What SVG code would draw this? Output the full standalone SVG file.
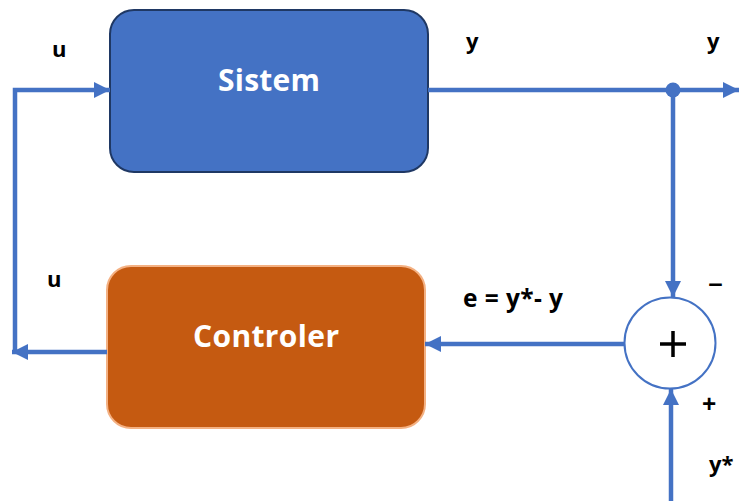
<svg xmlns="http://www.w3.org/2000/svg" width="739" height="501" viewBox="0 0 739 501">
<style>
.ln{stroke:#4472C4;stroke-width:4.5;fill:none}
.lbl{font-family:"Open Sans","Liberation Sans",sans-serif;font-weight:bold;font-size:22px;fill:#000}
.nt{font-family:"Open Sans","Liberation Sans",sans-serif;font-weight:bold;font-size:30px;fill:#fff;text-anchor:middle}
</style>
<defs>
<marker id="ah" viewBox="0 0 10 10" refX="10" refY="5" markerWidth="16" markerHeight="16" markerUnits="userSpaceOnUse" orient="auto">
<path d="M0,0 L10,5 L0,10 z" fill="#4472C4"/>
</marker>
</defs>
<g id="sistem">
<rect x="110" y="10" width="318" height="162" rx="24" fill="#4472C4" stroke="#1F3864" stroke-width="2"/>
<text class="nt" x="269" y="91" textLength="102">Sistem</text>
</g>
<g id="controler">
<rect x="107" y="266" width="318" height="162" rx="24" fill="#C55A11" stroke="#F4B183" stroke-width="2"/>
<text class="nt" x="266" y="347" textLength="146">Controler</text>
</g>
<g id="sum">
<circle cx="670" cy="343" r="45.5" fill="#fff" stroke="#4472C4" stroke-width="2"/>
<path d="M660,344 H686 M673,331 V357" stroke="#000" stroke-width="3.5"/>
</g>
<g id="connectors">
<path class="ln" d="M428,90 H739" marker-end="url(#ah)"/>
<circle cx="673" cy="90" r="7.5" fill="#4472C4"/>
<path class="ln" d="M673,90 V297" marker-end="url(#ah)"/>
<path class="ln" d="M624,344 H425" marker-end="url(#ah)"/>
<path class="ln" d="M107,352 H12" marker-end="url(#ah)"/>
<path class="ln" d="M15,354 V90 H110" marker-end="url(#ah)"/>
<path class="ln" d="M671,501 V389" marker-end="url(#ah)"/>
</g>
<g id="labels">
<text class="lbl" x="52" y="57">u</text>
<text class="lbl" x="466" y="49">y</text>
<text class="lbl" x="707" y="49">y</text>
<text class="lbl" x="47" y="287">u</text>
<text class="lbl" x="463" y="307" style="font-size:24.5px" textLength="100">e = y*- y</text>
<text class="lbl" x="708" y="291" textLength="15" lengthAdjust="spacingAndGlyphs">–</text>
<text class="lbl" x="702" y="413" style="font-size:25px">+</text>
<text class="lbl" x="709" y="472">y*</text>
</g>
</svg>
